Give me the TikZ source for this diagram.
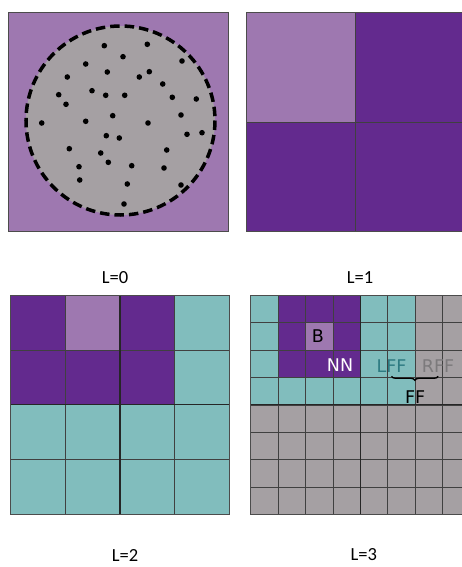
\documentclass[tikz,border=0pt]{standalone}
\usepackage{fontspec}
\setmainfont{Carlito}
\newfontfamily\djv{DejaVu Sans}
\usetikzlibrary{decorations.pathreplacing}
\definecolor{lpurp}{HTML}{9E78B0}
\definecolor{dpurp}{HTML}{632A8E}
\definecolor{qteal}{HTML}{81BDBD}
\definecolor{qgray}{HTML}{A5A0A3}
\definecolor{lffcol}{HTML}{2E7B82}
\definecolor{rffcol}{HTML}{7C7A7C}
\newcommand{\cellfill}[5]{\fill[#5] (#1,#2) rectangle (#3,#4);}
\newcommand{\cellgrid}[1]{\foreach \k in {1,...,#1} {\draw[gridline] (\k,0) -- (\k,#1) (0,\k) -- (#1,\k);}}
\tikzset{panelframe/.style={draw=black!70, line width=0.8pt},
  gridline/.style={draw=black!75, line width=0.7pt},
  midline/.style={draw=black!85, line width=1.1pt},
  lvl/.style={inner sep=0pt, font=\fontsize{18.5}{20}\selectfont},
  tag/.style={inner sep=0pt, font=\djv\fontsize{17.5}{19}\selectfont},
  particle/.style={fill=black}}

\begin{document}
\begin{tikzpicture}[x=1pt, y=-1pt]
\useasboundingbox (0,0) rectangle (462,567);
\clip (0,0) rectangle (462,567);
\fill[lpurp] (8,12.7) rectangle (228,231);
\fill[qgray] (120.5,120.5) circle[radius=94.5];
\draw[line width=3.5pt, dash pattern=on 9.5pt off 5pt] (120.5,120.5) circle[radius=94.5];
\foreach \px/\py in {104.3/45.7, 147.3/44.3, 123/56.7, 182/61, 85.7/64, 107.3/72, 149.3/71.7,
  67.3/77, 139.3/77, 162.7/84, 92/90.7, 58.7/94.7, 105.7/95.3, 124.7/95.3, 172.3/97.3,
  196.3/99, 66/104.3, 112.7/115.7, 181/115, 41.7/123, 85.7/121.3, 148/123, 106.3/135.7,
  119.3/138, 187/134.3, 202/132.7, 69.3/148.7, 166.7/150, 100.7/153, 108.3/162.3,
  79/166.7, 131.7/165.7, 164/168, 79.7/180, 127.3/184, 181/185, 124/204}
  \fill[particle] (\px,\py) circle[radius=2.8];
\draw[panelframe] (8,12.7) rectangle (228,231);
\node[lvl] (lzero) at (115,277.7) {L=0};
\begin{scope}[shift={(246,12.7)}, x=109pt, y=-109.2pt]
\cellfill{0}{0}{2}{2}{dpurp}
\cellfill{0}{0}{1}{1}{lpurp}
\cellgrid{2}
\draw[panelframe] (0,0) rectangle (2,2);
\end{scope}
\node[lvl] (lone) at (360,277.7) {L=1};
\begin{scope}[shift={(10.7,295.3)}, x=54.65pt, y=-54.75pt]
\cellfill{0}{0}{4}{4}{qteal}
\cellfill{0}{0}{3}{2}{dpurp}
\cellfill{1}{0}{2}{1}{lpurp}
\cellgrid{4}
\draw[midline] (2,0) -- (2,4) (0,2) -- (4,2);
\draw[panelframe] (0,0) rectangle (4,4);
\end{scope}
\node[lvl] (ltwo) at (125,555) {L=2};
\begin{scope}[shift={(250.7,295.3)}, x=27.4pt, y=-27.4pt]
\cellfill{0}{0}{8}{8}{qgray}
\cellfill{0}{0}{6}{4}{qteal}
\cellfill{1}{0}{4}{3}{dpurp}
\cellfill{2}{1}{3}{2}{lpurp}
\cellgrid{8}
\draw[midline] (4,0) -- (4,8) (0,4) -- (8,4);
\draw[panelframe] (0,0) rectangle (8,8);
\node[tag] (b) at (2.45,1.5) {B};
\node[tag, text=white] (nn) at (3.26,2.54) {NN};
\node[tag, text=lffcol] (lff) at (5.14,2.57) {LFF};
\node[tag, text=rffcol] (rff) at (6.84,2.57) {RFF};
\draw[decorate, decoration={brace, mirror, amplitude=4pt}, line width=1.3pt]
  ([yshift=-4pt]lff.south) -- ([yshift=-4pt]rff.south);
\node[tag] (ff) at (6.0,3.72) {FF};
\end{scope}
\node[lvl] (lthree) at (363.8,555) {L=3};
\end{tikzpicture}
\end{document}
